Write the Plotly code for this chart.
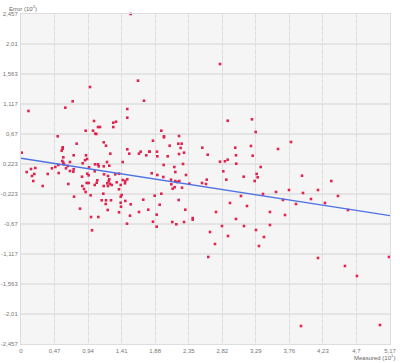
import plotly.graph_objects as go

# ---- data (Measured in 10^1, Error in 10^2) ----
measured = [
    1.537, 0.967, 1.639, 2.788, 0.105,
    0.724, 1.723, 0.621, 1.489, 1.489, 1.023, 1.331, 1.293, 1.079, 1.107, 1.293,
    0.906, 1.009, 1.041, 1.055, 0.514, 1.159, 0.780, 1.191, 0.584, 0.584, 0.570,
    1.489, 1.677, 0.010, 1.797, 1.517, 1.653, 0.738, 0.911, 1.251, 0.593, 0.925,
    0.897, 0.579, 0.593, 0.602, 0.686, 1.205, 1.425, 0.864, 1.037, 1.079, 1.089,
    0.523, 0.654, 1.237, 0.953, 1.159, 0.140, 0.200, 0.434, 0.481, 0.630, 0.686,
    0.738, 0.080, 0.186, 0.154, 0.374, 0.528, 0.733, 0.929, 0.855, 0.948, 1.033,
    1.163, 1.321, 1.373, 1.219, 1.425, 1.489, 1.069, 1.237, 0.172, 0.663, 0.920,
    0.948, 1.061, 1.209, 1.247, 1.341, 1.457,
    2.896, 3.236, 3.288, 1.966, 2.003, 2.003, 2.214, 1.849, 2.204, 2.251, 2.083,
    2.237, 2.540, 3.002, 3.222, 1.803, 1.905, 2.284, 2.214, 1.755, 1.910, 2.055,
    2.616, 3.012, 3.246, 2.788, 2.858, 2.896, 3.016, 1.999, 2.270, 3.358, 2.148,
    2.162, 2.834, 1.831, 1.910, 2.312, 3.302, 1.994, 2.102, 3.120, 3.316, 2.602,
    2.876, 3.274, 2.186, 2.536, 2.106, 2.358,
    3.783, 3.601, 3.937, 4.347,
    0.304, 0.859, 0.883, 0.906, 1.033, 1.159, 1.229, 1.219, 1.271, 1.397, 1.373,
    1.461, 0.976, 0.743, 1.153, 1.411, 1.397, 1.131, 1.191, 1.261, 1.187, 1.397,
    1.461, 1.401, 1.537, 0.827, 1.215, 1.373, 0.981, 1.083, 1.527, 1.485, 0.995,
    1.713, 1.653, 1.783, 1.873, 1.966, 1.943, 1.901, 1.849, 1.901, 2.120, 2.176,
    2.284, 2.209, 2.302, 2.406, 2.406, 2.153, 2.125, 2.256, 2.162, 2.218, 2.592,
    2.624,
    2.648, 2.718, 2.816, 2.900, 3.012, 3.082, 3.166, 3.292, 3.334, 3.404, 3.488,
    3.573, 3.671, 3.755, 3.853, 3.951, 4.063, 4.161, 4.259, 4.441, 4.581, 4.161,
    4.539, 4.707, 5.156, 3.923, 5.030, 3.488, 3.124, 2.732, 2.928, 3.390, 3.699,
]
error = [
    2.457, 1.370, 1.464, 1.712, 1.013,
    1.157, 1.166, 1.062, 1.042, 0.913, 0.864, 0.853, 0.838, 0.774, 0.774, 0.774,
    0.719, 0.719, 0.675, 0.670, 0.636, 0.547, 0.526, 0.496, 0.472, 0.451, 0.422,
    0.442, 0.407, 0.392, 0.407, 0.377, 0.377, 0.353, 0.353, 0.377, 0.323, 0.298,
    0.279, 0.268, 0.243, 0.219, 0.253, 0.253, 0.253, 0.234, 0.219, 0.219, 0.189,
    0.209, 0.194, 0.198, 0.174, 0.189, 0.149, 0.164, 0.159, 0.179, 0.159, 0.119,
    0.145, 0.104, 0.075, 0.045, 0.075, 0.089, 0.109, 0.079, 0.034, 0.055, 0.115,
    0.070, 0.070, 0.079, 0.045, -0.015, -0.004, -0.019, -0.004, -0.030, -0.074, -0.059,
    -0.059, -0.055, -0.064, -0.070, -0.049, -0.064,
    0.868, 0.889, 0.700, 0.719, 0.636, 0.621, 0.640, 0.570, 0.526, 0.526, 0.496,
    0.462, 0.466, 0.466, 0.492, 0.407, 0.407, 0.392, 0.372, 0.353, 0.338, 0.338,
    0.362, 0.353, 0.347, 0.258, 0.264, 0.288, 0.228, 0.209, 0.224, 0.179, 0.179,
    0.104, 0.115, 0.085, 0.060, 0.060, 0.075, 0.030, -0.010, 0.034, 0.025, -0.010,
    -0.010, -0.030, -0.045, -0.059, -0.079, -0.070,
    0.551, 0.447, 0.049, -0.030,
    -0.104, -0.104, -0.149, -0.193, -0.089, -0.104, -0.030, -0.104, -0.089, -0.089, -0.153,
    -0.030, -0.243, -0.263, -0.219, -0.238, -0.263, -0.317, -0.317, -0.317, -0.372, -0.353,
    -0.327, -0.412, -0.377, -0.442, -0.461, -0.496, -0.566, -0.566, -0.546, -0.665, -0.764,
    -0.308, -0.491, -0.457, -0.249, -0.219, -0.383, -0.531, -0.636, -0.710, -0.640, -0.674,
    -0.640, -0.313, -0.457, -0.581, -0.606, -0.123, -0.144, -0.129, -0.030, -0.030, -0.074,
    -1.161,
    -0.789, -0.968, -0.700, -0.849, -0.595, -0.253, -0.402, -0.759, -0.998, -0.864, -0.491,
    -0.193, -0.312, -0.164, -0.372, -0.208, -0.298, -0.164, -0.357, -0.253, -0.462, -1.176,
    -1.295, -1.444, -1.161, -2.189, -2.174, -0.685, -0.700, -0.491, -0.357, -0.223, -0.536,
]

# trend line end values
trend_x = [0.0, 5.17]
trend_y = [0.31, -0.546]

# axis ticks
x_ticks = [0, 0.47, 0.94, 1.41, 1.88, 2.35, 2.82, 3.29, 3.76, 4.23, 4.7, 5.17]
y_ticks = [2.457, 2.01, 1.563, 1.117, 0.67, 0.223, -0.223, -0.67, -1.117, -1.563, -2.01, -2.457]

# darker reference segments along some grid lines: (x0, x1, y)
ref_segments = [(0.0, 0.995, -1.563), (0.0, 0.532, -2.01), (1.443, 5.17, -1.117)]


def fmt(v):
    return ("%g" % v).replace(".", ",")


x_range = [0, 5.17]
y_range = [-2.457, 2.457]

FONT = "Liberation Sans, Arial, sans-serif"

fig = go.Figure()

fig.add_trace(go.Scatter(
    x=measured, y=error, mode="markers",
    marker=dict(symbol="square", size=2.6, color="#e0234f", line=dict(width=0)),
    hoverinfo="x+y", showlegend=False, cliponaxis=False,
))
fig.add_trace(go.Scatter(
    x=trend_x, y=trend_y, mode="lines",
    line=dict(color="#4f72e3", width=1.4),
    showlegend=False, hoverinfo="skip",
))

for x0, x1, y in ref_segments:
    fig.add_shape(type="line", xref="x", yref="y", x0=x0, x1=x1, y0=y, y1=y,
                  line=dict(color="#d4d4d4", width=1), layer="below")

tick_font = dict(family=FONT, size=6, color="#777777")

fig.update_layout(
    width=400, height=363,
    margin=dict(l=21, r=10, t=14, b=19, autoexpand=False),
    paper_bgcolor="white",
    plot_bgcolor="#f5f5f5",
    font=tick_font,
    xaxis=dict(
        range=x_range, tickmode="array", tickvals=x_ticks,
        ticktext=[fmt(v) for v in x_ticks],
        showgrid=True, gridcolor="#e6e6e6", gridwidth=1,
        zeroline=False, showline=True, linecolor="#dddddd", mirror=True,
        ticks="", tickfont=tick_font, fixedrange=True, automargin=False,
        ticklabelstandoff=1, ticklabeloverflow="allow",
    ),
    xaxis2=dict(
        range=x_range, overlaying="x", tickmode="array", tickvals=x_ticks,
        showticklabels=False, showgrid=True, gridcolor="#dcdcdc",
        griddash="3px,3px", zeroline=False, showline=False, ticks="",
        fixedrange=True, automargin=False,
    ),
    yaxis=dict(
        range=y_range, tickmode="array", tickvals=y_ticks,
        ticktext=[fmt(v) for v in y_ticks],
        showgrid=True, gridcolor="#e4e4e4", gridwidth=1.5,
        zeroline=False, showline=True, linecolor="#dddddd", mirror=True,
        ticks="", tickfont=tick_font, fixedrange=True, automargin=False,
        ticklabelstandoff=1, ticklabeloverflow="allow",
    ),
    annotations=[
        dict(text="Error (10<sup>2</sup>)", xref="paper", yref="paper",
             x=-0.038, y=1.0, xanchor="left", yanchor="bottom", showarrow=False,
             yshift=0, font=dict(family=FONT, size=6, color="#666666")),
        dict(text="Measured (10<sup>1</sup>)", xref="paper", yref="paper",
             x=1.02, y=0, xanchor="right", yanchor="top", showarrow=False,
             yshift=-7, font=dict(family=FONT, size=6, color="#666666")),
    ],
)

# invisible trace on xaxis2 so the overlay axis is drawn
fig.add_trace(go.Scatter(x=[x_range[0]], y=[y_range[0]], xaxis="x2", mode="markers",
                         marker=dict(opacity=0), showlegend=False, hoverinfo="skip"))

fig.write_html("out.html",
               config={"displayModeBar": False},
               post_script="document.body.style.margin='0px';document.body.style.overflow='hidden';")
